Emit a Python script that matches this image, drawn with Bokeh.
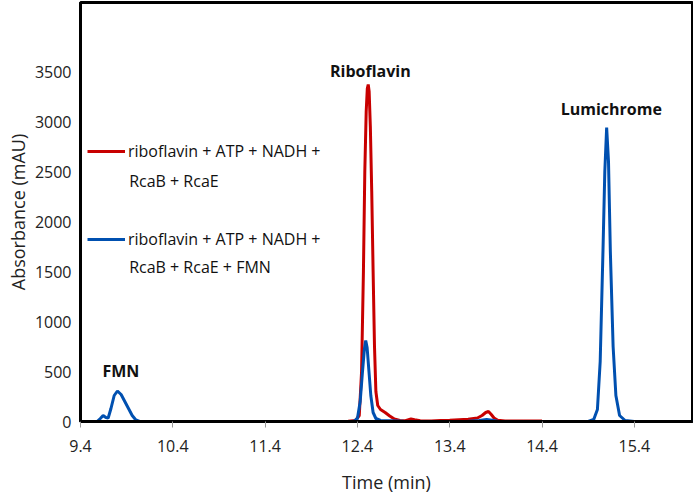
from bokeh.plotting import figure
from bokeh.models import Range1d, FixedTicker, Legend, LegendItem, Label
from bokeh.embed import file_html
from bokeh.resources import INLINE

# ---- data ----
red_time = [9.40, 9.60, 10.00, 10.50, 11.00, 11.50, 12.00, 12.30, 12.38, 12.42, 12.445, 12.465,
            12.48, 12.495, 12.507, 12.517, 12.527, 12.54, 12.555, 12.57, 12.585, 12.60, 12.62,
            12.65, 12.70, 12.75, 12.80, 12.86, 12.92, 12.98, 13.02, 13.08, 13.20, 13.30, 13.40,
            13.50, 13.60, 13.70, 13.75, 13.79, 13.82, 13.85, 13.88, 13.92, 14.00, 14.20, 14.40]
red_abs = [0, 0, 0, 0, 0, 0, 0, 2, 10, 60, 500, 1500,
           2500, 3100, 3330, 3370, 3300, 2950, 2300, 1500, 750, 300, 160,
           120, 90, 55, 25, 10, 8, 25, 18, 8, 5, 10, 12,
           18, 22, 35, 60, 90, 100, 70, 35, 12, 6, 5, 4]

blue_time = [9.40, 9.58, 9.615, 9.645, 9.675, 9.70, 9.73, 9.765, 9.80, 9.84, 9.88, 9.92,
             9.96, 10.00, 10.04, 10.50, 11.00, 11.50, 12.00, 12.36, 12.40, 12.43, 12.455,
             12.475, 12.49, 12.505, 12.525, 12.545, 12.57, 12.60, 12.65, 12.75, 12.90, 13.20,
             13.60, 13.72, 13.80, 13.86, 13.92, 14.20, 14.60, 14.90, 14.96, 15.00, 15.03,
             15.06, 15.08, 15.10, 15.12, 15.14, 15.17, 15.20, 15.24, 15.30, 15.40, 15.70, 16.03]
blue_abs = [0, 0, 30, 60, 40, 35, 130, 260, 305, 270, 200, 130,
            60, 15, 0, 0, 0, 0, 0, 0, 30, 200, 500,
            720, 810, 740, 500, 260, 90, 30, 10, 8, 3, 0,
            3, 10, 20, 12, 2, 0, 0, 0, 20, 120, 600,
            1700, 2500, 2940, 2600, 1700, 750, 260, 60, 10, 0, 0, 0]

y_ticks = [0, 500, 1000, 1500, 2000, 2500, 3000, 3500]
x_ticks = [9.4, 10.4, 11.4, 12.4, 13.4, 14.4, 15.4]

legend_line1 = ["riboflavin + ATP + NADH +", "riboflavin + ATP + NADH +"]
legend_line2 = ["RcaB + RcaE", "RcaB + RcaE + FMN"]
peak_names = ["Riboflavin", "Lumichrome", "FMN"]

RED = "#C80000"
BLUE = "#0050B0"
FONT = "Open Sans"

p = figure(frame_width=612, frame_height=419, output_backend="svg", toolbar_location=None,
           x_range=Range1d(9.4, 16.03), y_range=Range1d(0, 4190),
           min_border_left=80, min_border_right=1, min_border_top=2, min_border_bottom=77,
           x_axis_label="Time (min)", y_axis_label="Absorbance (mAU)")
p.grid.visible = False
p.background_fill_color = "white"
p.border_fill_color = "white"
p.outline_line_color = "black"
p.outline_line_width = 3

r_red = p.line(red_time, red_abs, line_color=RED, line_width=3)
r_blue = p.line(blue_time, blue_abs, line_color=BLUE, line_width=3)

p.xaxis.ticker = FixedTicker(ticks=x_ticks)
p.yaxis.ticker = FixedTicker(ticks=y_ticks)
p.xaxis.major_label_overrides = {t: f"{t:.1f}" for t in x_ticks}
for ax in (p.xaxis[0], p.yaxis[0]):
    ax.axis_line_color = "black"
    ax.axis_line_width = 3
    ax.minor_tick_line_color = None
    ax.major_label_text_font = FONT
    ax.major_label_text_font_size = "16px"
    ax.major_label_text_color = "#222222"
    ax.axis_label_text_font = FONT
    ax.axis_label_text_font_size = "18px"
    ax.axis_label_text_font_style = "normal"
    ax.axis_label_text_color = "#222222"
p.xaxis.major_tick_line_color = "#999999"
p.xaxis.major_tick_out = 6
p.xaxis.major_tick_in = 0
p.xaxis.major_label_standoff = 12
p.xaxis.axis_label_standoff = 15
p.yaxis.major_tick_line_color = None
p.yaxis.major_tick_out = 0
p.yaxis.major_tick_in = 0
p.yaxis.major_label_standoff = 9
p.yaxis.axis_label_standoff = 2

legend = Legend(items=[LegendItem(label=legend_line1[0], renderers=[r_red]),
                       LegendItem(label=legend_line1[1], renderers=[r_blue])],
                location=(7, 171), padding=0, margin=0, spacing=66,
                label_height=20, glyph_height=20, glyph_width=38, label_standoff=3,
                border_line_color=None, background_fill_alpha=0,
                label_text_font=FONT, label_text_font_size="16px", label_text_color="#111111")
p.add_layout(legend)

for txt, yv in zip(legend_line2, [2410, 1550]):
    p.add_layout(Label(x=9.927, y=yv, text=txt, text_font=FONT, text_font_size="16px",
                       text_color="#111111", text_baseline="middle", text_align="left"))

for txt, xv, yv in zip(peak_names, [12.54, 15.15, 9.837], [3510, 3130, 510]):
    p.add_layout(Label(x=xv, y=yv, text=txt, text_font=FONT, text_font_size="16px",
                       text_font_style="bold", text_color="#111111",
                       text_baseline="middle", text_align="center"))

open("out.html", "w").write(file_html(p, INLINE))
